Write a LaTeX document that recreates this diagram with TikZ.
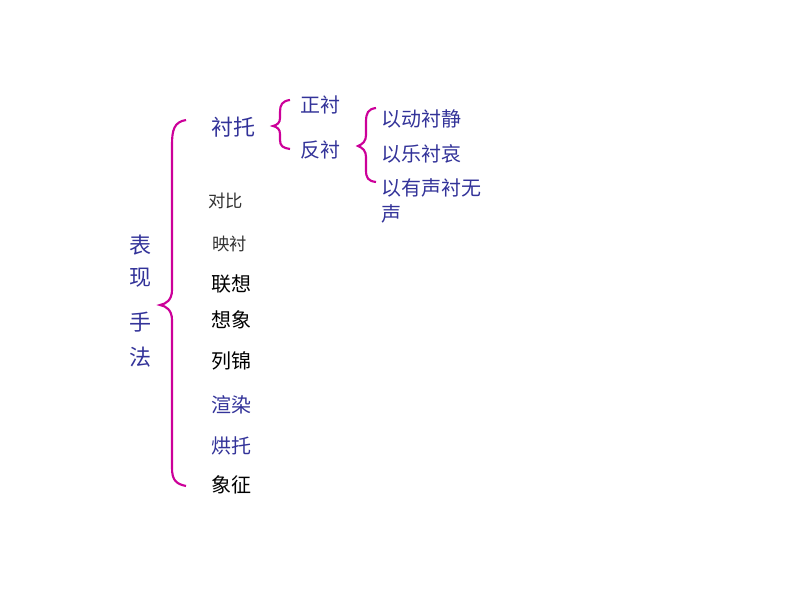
\documentclass[tikz,border=0pt]{standalone}
\usepackage{fontspec}
\newfontfamily\cjk{Noto Sans CJK SC}
\definecolor{navy}{HTML}{333399}
\definecolor{mag}{HTML}{CC0099}
\begin{document}
\begin{tikzpicture}[x=0.75pt,y=-0.75pt,
  t/.style={anchor=west,inner sep=0pt,font=\cjk\fontsize{15}{15}\selectfont,text=navy},
  tb/.style={t,text=black},
  big/.style={anchor=center,inner sep=0pt,font=\cjk\fontsize{16.5}{16.5}\selectfont,text=navy},
  br/.style={draw=mag,line width=1.6pt}]
\useasboundingbox (0,0) rectangle (794,596);
\node[big] (b1) at (140,245) {表};
\node[big] (b2) at (140,278) {现};
\node[big] (b3) at (140,322) {手};
\node[big] (b4) at (140,357) {法};
\draw[br] (186,120) .. controls (174,122) and (172,130) .. (172,145) -- (172,290) .. controls (172,300) and (166,304) .. (160,305) .. controls (166,306) and (172,310) .. (172,320) -- (172,468) .. controls (172,480) and (176,484) .. (186,486);
\node[t,font=\cjk\fontsize{16.5}{16.5}\selectfont] (ct) at (211,127) {衬托};
\node[t,font=\cjk\fontsize{13}{13}\selectfont,text=black!80] (db) at (208,201) {对比};
\node[t,font=\cjk\fontsize{13}{13}\selectfont,text=black!80] (yc) at (212,244) {映衬};
\node[tb] (lx) at (211,284) {联想};
\node[tb] (xx) at (211,320) {想象};
\node[tb] (lj) at (211,361) {列锦};
\node[t] (xr) at (211,405) {渲染};
\node[t] (ht) at (211,446) {烘托};
\node[tb] (xz) at (211,485) {象征};
\draw[br] (290,100) .. controls (282,101) and (280,105) .. (280,112) -- (280,118) .. controls (280,123) and (277,125) .. (273,126) .. controls (277,127) and (280,129) .. (280,134) -- (280,140) .. controls (280,146) and (283,148) .. (290,149);
\node[t] (zc) at (300,105) {正衬};
\node[t] (fc) at (300,150) {反衬};
\draw[br] (376,108) .. controls (368,109) and (366,113) .. (366,122) -- (366,135) .. controls (366,141) and (363,144) .. (358,146) .. controls (363,148) and (366,151) .. (366,157) -- (366,170) .. controls (366,178) and (368,181) .. (376,182);
\node[t] (a1) at (381,119) {以动衬静};
\node[t] (a2) at (381,154) {以乐衬哀};
\node[t] (a3) at (381,188) {以有声衬无};
\node[t] (a4) at (381,214) {声};
\end{tikzpicture}
\end{document}
